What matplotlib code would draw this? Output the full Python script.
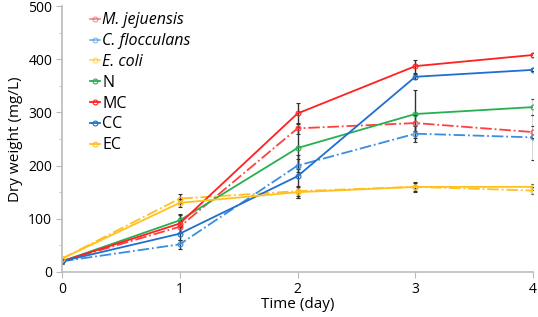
import matplotlib
matplotlib.use("Agg")
import matplotlib.pyplot as plt
from matplotlib.ticker import MultipleLocator
from matplotlib.lines import Line2D

plt.rcParams['font.family'] = ['Open Sans', 'DejaVu Sans']

days = [0, 1, 2, 3, 4]
labels = ["M. jejuensis", "C. flocculans", "E. coli", "N", "MC", "CC", "EC"]
mj = [20, 85, 270, 280, 263]
cf = [20, 52, 200, 260, 253]
ecoli = [25, 138, 152, 160, 153]
n_vals = [20, 97, 233, 297, 310]
mc = [20, 91, 298, 387, 408]
cc = [20, 72, 180, 367, 380]
ec = [25, 130, 150, 160, 160]

mj_err = [5, 12, 10, 15, 12]
cf_err = [4, 8, 12, 15, 42]
ecoli_err = [4, 8, 10, 8, 6]
n_err = [4, 10, 40, 45, 15]
mc_err = [4, 18, 20, 12, 3]
cc_err = [4, 12, 40, 5, 3]
ec_err = [4, 8, 10, 10, 6]

series = [mj, cf, ecoli, n_vals, mc, cc, ec]
errs = [mj_err, cf_err, ecoli_err, n_err, mc_err, cc_err, ec_err]
colors = ["#ff4040", "#3a8ee0", "#ffc020", "#28b050", "#ff2020", "#1f6fcf", "#ffc020"]
styles = ["-.", "-.", "-.", "-", "-", "-", "-"]

fig = plt.figure(figsize=(5.38, 3.17), dpi=100)
ax = fig.add_axes([0.115, 0.142, 0.876, 0.839])

handles = []
for vals, err, c, ls, lab in zip(series, errs, colors, styles, labels):
    ax.errorbar(days, vals, yerr=err, color=c, ls=ls, lw=1.3,
                marker='o', ms=3.5, mfc='none', mec=c, mew=0.8,
                ecolor='#333333', elinewidth=1.0, capsize=1.2)
    handles.append(Line2D([], [], color=c, lw=1.3, ls='-', marker='o', ms=3.5,
                          mfc='none', mec=c, mew=0.8, alpha=0.6 if ls == '-.' else 1.0))

ax.set_xlim(0, 4)
ax.set_ylim(0, 500)
ax.xaxis.set_major_locator(MultipleLocator(1))
ax.yaxis.set_major_locator(MultipleLocator(100))
ax.yaxis.set_minor_locator(MultipleLocator(50))
ax.spines['top'].set_visible(False)
ax.spines['right'].set_visible(False)
for s in ['left', 'bottom']:
    ax.spines[s].set_color('#bbbbbb')
    ax.spines[s].set_linewidth(1.2)
ax.tick_params(axis='both', which='both', direction='out', color='#bbbbbb', labelsize=10)
ax.tick_params(which='major', length=4, pad=3)
ax.tick_params(which='minor', length=2)
ax.set_xlabel("Time (day)", fontsize=11, labelpad=0)
ax.set_ylabel("Dry weight (mg/L)", fontsize=11, labelpad=4)

leg = ax.legend(handles, labels, loc='upper left', bbox_to_anchor=(0.03, 1.03), frameon=False,
                fontsize=11.5, handlelength=0.6, handletextpad=0.15,
                labelspacing=0.3)
for i, t in enumerate(leg.get_texts()):
    if i < 3:
        t.set_fontstyle('italic')

fig.savefig("out.png", dpi=100)
